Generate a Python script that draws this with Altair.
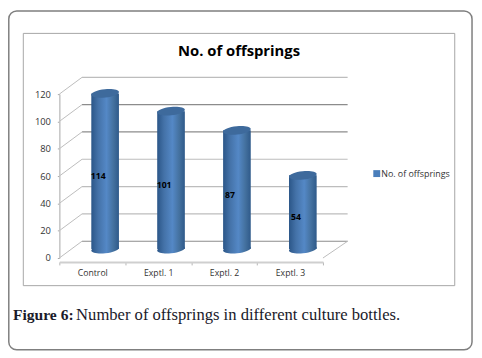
import altair as alt
import pandas as pd

categories = ["Control", "Exptl. 1", "Exptl. 2", "Exptl. 3"]
offspring = [114, 101, 87, 54]
grid_values = [0, 20, 40, 60, 80, 100, 120]
series_name = "No. of offsprings"
chart_title = "No. of offsprings"
caption_bold = "Figure 6:"
caption_rest = "Number of offsprings in different culture bottles."

bars = pd.DataFrame({"cat": categories, "v": offspring, "series": series_name})
grid = pd.DataFrame({"v": grid_values})
one = pd.DataFrame({"a": [0]})

y_scale = alt.Scale(domain=[0, 120], range=[251, 85], nice=False, zero=False)
y_axis = alt.Axis(orient="left", offset=-52, values=grid_values, tickSize=2, tickColor="#a8a8a8",
                  domainColor="#c4c4c4", domainWidth=1.5, labelColor="#333333", labelFont="Open Sans",
                  labelFontSize=9.5, labelPadding=7, grid=False, title=None, zindex=1)
X = alt.X("cat:N", sort=categories, title=None,
          scale=alt.Scale(domain=categories, range=[52, 319], paddingInner=0, paddingOuter=0),
          axis=alt.Axis(orient="bottom", offset=-91, labelAngle=0, tickBand="extent", tickSize=3,
                        tickColor="#b5b5b5", domainColor="#cfcfcf", domainWidth=2, labelColor="#333333",
                        labelFont="Open Sans", labelFontSize=8.8, labelPadding=4, grid=False, title=None, zindex=1))
Y = alt.Y("v:Q", title=None, scale=y_scale, axis=y_axis)

outer = alt.Chart(one).mark_rect(fill="white", stroke="#7f7f7f", strokeWidth=1.5, cornerRadius=8).encode(
    x=alt.value(0.8), x2=alt.value(470), y=alt.value(0.8), y2=alt.value(344))
inner = alt.Chart(one).mark_rect(fill="white", stroke="#a6a6a6", strokeWidth=1).encode(
    x=alt.value(15.5), x2=alt.value(452.5), y=alt.value(23.5), y2=alt.value(279))

dark = alt.condition("indexof([0,80,100], datum.v) >= 0", alt.value("#8c8c8c"), alt.value("#bdbdbd"))
back = alt.Chart(grid).mark_rule(strokeWidth=1.2, yOffset=-17).encode(
    x=alt.value(75), x2=alt.value(344), y=Y, color=dark)
diag = alt.Chart(grid).transform_calculate(vb="datum.v + 12.3").mark_rule(
    color="#bcbcbc", strokeWidth=1).encode(
    x=alt.value(52), x2=alt.value(75), y=Y, y2="vb:Q")
diag_r = alt.Chart(pd.DataFrame({"v": grid_values[:1]})).transform_calculate(vb="datum.v + 12.3").mark_rule(
    color="#bcbcbc", strokeWidth=1).encode(
    x=alt.value(319), x2=alt.value(344), y=Y, y2="vb:Q")

grad = alt.Gradient(gradient="linear", x1=0, y1=0, x2=1, y2=0, stops=[
    alt.GradientStop(offset=0, color="#2b5688"),
    alt.GradientStop(offset=0.25, color="#4472a8"),
    alt.GradientStop(offset=0.55, color="#5488c6"),
    alt.GradientStop(offset=0.8, color="#44719f"),
    alt.GradientStop(offset=1, color="#2f5a8a")])
ELLIPSE = "M -1 .1 A 1 .3 -6 1 1 1 -.1 A 1 .3 -6 1 1 -1 .1 Z"
body = alt.Chart(bars).mark_bar(size=28, xOffset=13, yOffset=-9, color=grad).encode(x=X, y=Y)
bottom = alt.Chart(bars).transform_calculate(b="0").mark_point(
    shape=ELLIPSE, size=784, filled=True, opacity=1, xOffset=13, yOffset=-9, color=grad).encode(
    x=X, y=alt.Y("b:Q", axis=y_axis, title=None, scale=y_scale))
top = alt.Chart(bars).mark_point(
    shape=ELLIPSE, size=784, filled=True, opacity=1, xOffset=13, yOffset=-9, color="#3e6a9c").encode(x=X, y=Y)
labels = alt.Chart(bars).transform_calculate(m="datum.v / 2").mark_text(
    font="Open Sans", fontSize=8.8, fontWeight="bold", color="black", dx=6, yOffset=-4, baseline="middle").encode(
    x=X, y=alt.Y("m:Q", axis=y_axis, title=None, scale=y_scale),
    text="v:Q")
legend = alt.Chart(bars).mark_square(size=0).encode(
    color=alt.Color("series:N", title=None, scale=alt.Scale(range=["#4a7ebb"]),
                    legend=alt.Legend(orient="none", legendX=369, legendY=161, symbolType="square", symbolSize=49,
                                      symbolOpacity=1, labelFont="Open Sans", labelFontSize=9,
                                      labelColor="#333333", labelOffset=0)))

title = alt.Chart(one).mark_text(text=chart_title, font="Open Sans", fontSize=15, fontWeight="bold",
                                 color="black", align="center", baseline="middle").encode(
    x=alt.value(234), y=alt.value(41))
cap1 = alt.Chart(one).mark_text(text=caption_bold, font="Liberation Serif", fontSize=15.8, fontWeight="bold",
                                color="#1a1a2a", align="left", baseline="alphabetic").encode(
    x=alt.value(5), y=alt.value(314))
cap2 = alt.Chart(one).mark_text(text=caption_rest, font="Liberation Serif", fontSize=16.8,
                                color="#1a1a2a", align="left", baseline="alphabetic").encode(
    x=alt.value(69), y=alt.value(314))

chart = alt.layer(outer, inner, back, diag, diag_r, body, bottom, top, labels, legend, title, cap1, cap2).properties(
    width=472, height=346, padding=0, autosize=alt.AutoSizeParams(type="none")
).configure_view(stroke=None)

chart.save("out.html", embed_options={"renderer": "svg", "actions": False})
